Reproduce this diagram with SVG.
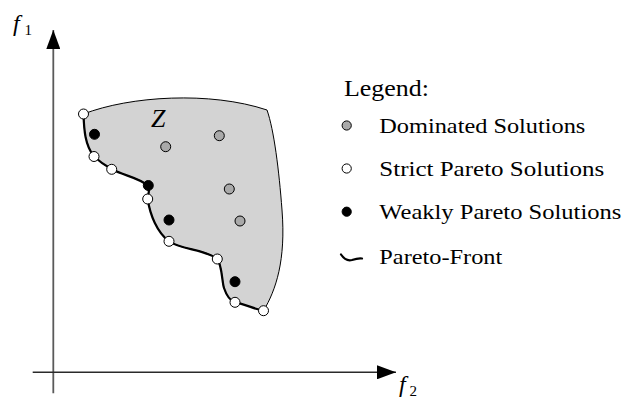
<svg xmlns="http://www.w3.org/2000/svg" width="622" height="398" viewBox="0 0 622 398">
  <style>
    text { font-family: "Liberation Serif", "Times New Roman", serif; fill: #000; }
    .it { font-style: italic; }
    .dom { fill: #a9a9a9; stroke: #000; stroke-width: 1; }
    .strict { fill: #fff; stroke: #000; stroke-width: 1; }
    .weak { fill: #000; stroke: #000; stroke-width: 1; }
    .front { fill: none; stroke: #000; stroke-width: 2.2; stroke-linejoin: round; stroke-linecap: round; }
  </style>
  <defs>
    <marker id="arrow" markerUnits="userSpaceOnUse" markerWidth="20" markerHeight="14" refX="19" refY="7" orient="auto">
      <path d="M0,0 L19,7 L0,14 Z" fill="#000"/>
    </marker>
  </defs>
  <rect width="622" height="398" fill="#fff"/>

  <!-- objective axes -->
  <g id="axes">
    <line x1="53.3" y1="393.3" x2="53.3" y2="30" stroke="#5a5a5a" stroke-width="1.8" marker-end="url(#arrow)"/>
    <line x1="32.7" y1="372.3" x2="396" y2="372.3" stroke="#2a2a2a" stroke-width="1.6" marker-end="url(#arrow)"/>
    <text class="it" x="13" y="31" font-size="24">f</text>
    <text x="24.5" y="34.5" font-size="15">1</text>
    <text class="it" x="399" y="391.5" font-size="24">f</text>
    <text x="409.5" y="396" font-size="15">2</text>
  </g>

  <!-- feasible objective region -->
  <g id="region">
    <path d="M83.5,114 C84,130 85,145 94,156.5 C100,162 106,166 111.7,169.3 C125,176 140,178 148.3,186 C150,190 148,195 147.7,199 C150,215 157,232 169,241.3 C182,250 205,249 217.3,259 C222,265 222,282 224,288 C227,297 231,301 235,302.3 C245,304 254,309 263.5,310.7 C276,290 286,260 282,210 C279,170 274,130 267,110 C210,91 130,96 83.5,114 Z" fill="#d3d3d3" stroke="#000" stroke-width="1"/>
    <text class="it" x="151" y="126.5" font-size="26">Z</text>
  </g>

  <!-- connectors: Pareto front along the lower-left boundary -->
  <g id="connectors">
    <path class="front" d="M83.5,114 C84,130 85,145 94,156.5 C100,162 106,166 111.7,169.3 C125,176 140,178 148.3,186 C150,190 148,195 147.7,199 C150,215 157,232 169,241.3 C182,250 205,249 217.3,259 C222,265 222,282 224,288 C227,297 231,301 235,302.3 C245,304 254,309 263.5,310.7"/>
  </g>

  <!-- solutions -->
  <g id="dominated">
    <circle class="dom" cx="165.7" cy="146.7" r="5"/>
    <circle class="dom" cx="219.3" cy="135.7" r="5"/>
    <circle class="dom" cx="229.3" cy="189" r="5"/>
    <circle class="dom" cx="240" cy="221" r="5"/>
  </g>
  <g id="weakly-pareto">
    <circle class="weak" cx="94.5" cy="134.3" r="5"/>
    <circle class="weak" cx="148.3" cy="185.5" r="5"/>
    <circle class="weak" cx="169" cy="220" r="5"/>
    <circle class="weak" cx="235" cy="281.7" r="5"/>
  </g>
  <g id="strict-pareto">
    <circle class="strict" cx="83.5" cy="114" r="5"/>
    <circle class="strict" cx="94" cy="156.5" r="5"/>
    <circle class="strict" cx="111.7" cy="169.3" r="5"/>
    <circle class="strict" cx="147.7" cy="199" r="5"/>
    <circle class="strict" cx="169" cy="241.3" r="5"/>
    <circle class="strict" cx="217.3" cy="259" r="5"/>
    <circle class="strict" cx="235" cy="302.3" r="5"/>
    <circle class="strict" cx="263.5" cy="310.7" r="5"/>
  </g>

  <!-- legend -->
  <g id="legend">
    <text x="344" y="95.7" font-size="24" textLength="85" lengthAdjust="spacingAndGlyphs">Legend:</text>
    <circle class="dom" cx="346.7" cy="125.5" r="4.6"/>
    <text x="379.3" y="133.3" font-size="21.5" textLength="206" lengthAdjust="spacingAndGlyphs">Dominated Solutions</text>
    <circle class="strict" cx="346.7" cy="168.5" r="4.6"/>
    <text x="379.3" y="176" font-size="21.5" textLength="225" lengthAdjust="spacingAndGlyphs">Strict Pareto Solutions</text>
    <circle class="weak" cx="346.7" cy="211.7" r="4.6"/>
    <text x="379.3" y="219.3" font-size="21.5" textLength="242" lengthAdjust="spacingAndGlyphs">Weakly Pareto Solutions</text>
    <path class="front" d="M341,254.5 C344,259 348,261 352,260 C355,259 358,258 362,258.5"/>
    <text x="379.3" y="264" font-size="21.5" textLength="123" lengthAdjust="spacingAndGlyphs">Pareto-Front</text>
  </g>
</svg>
